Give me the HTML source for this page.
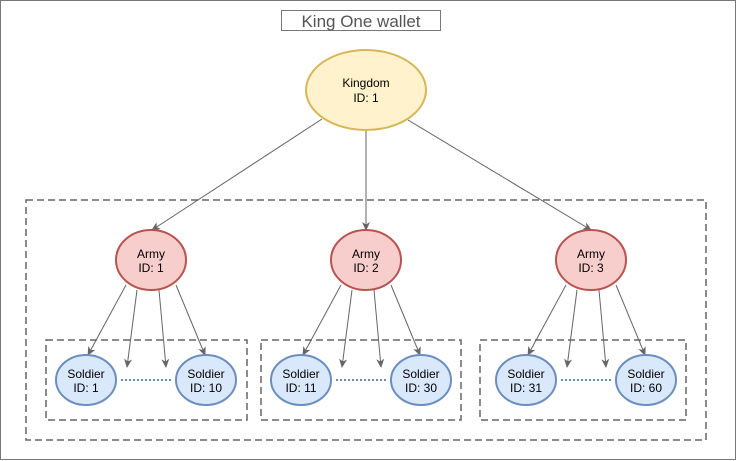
<!DOCTYPE html>
<html><head><style>body{margin:0;background:#fff}svg{display:block}text{font-family:"Liberation Sans",sans-serif;font-size:12px;fill:#000;text-anchor:middle}</style></head><body>
<svg width="736" height="461" viewBox="0 0 736 461">
<defs><marker id="a" markerWidth="10" markerHeight="10" refX="8" refY="5" orient="auto" markerUnits="userSpaceOnUse"><path d="M0,1 L9,5 L0,9 L2.5,5 Z" fill="#666"/></marker></defs>
<rect x="0.5" y="0.5" width="735" height="459" fill="#fff" stroke="#777"/>
<rect x="281.5" y="10.5" width="159" height="20" fill="#fff" stroke="#777"/>
<text x="361" y="27" style="font-size:17px;fill:#555">King One wallet</text>
<g fill="none" stroke="#666" stroke-dasharray="7,4" stroke-width="1.5">
<rect x="26" y="200" width="680" height="240"/>
<rect x="46" y="340" width="201" height="80"/>
<rect x="261" y="340" width="200" height="80"/>
<rect x="480" y="340" width="206" height="80"/>
</g>
<g stroke="#666" stroke-width="1" marker-end="url(#a)">
<line x1="322" y1="119" x2="152" y2="230"/>
<line x1="366" y1="130" x2="366" y2="230"/>
<line x1="408" y1="120" x2="591" y2="230"/>
<line x1="126" y1="285" x2="88" y2="355"/><line x1="137" y1="290" x2="127" y2="367"/><line x1="159" y1="290" x2="166" y2="367"/><line x1="176" y1="285" x2="205" y2="355"/>
<line x1="341" y1="285" x2="303" y2="355"/><line x1="352" y1="290" x2="342" y2="367"/><line x1="374" y1="290" x2="381" y2="367"/><line x1="391" y1="285" x2="420" y2="355"/>
<line x1="566" y1="285" x2="528" y2="355"/><line x1="577" y1="290" x2="567" y2="367"/><line x1="599" y1="290" x2="606" y2="367"/><line x1="616" y1="285" x2="645" y2="355"/>
</g>
<g stroke="#6c8ebf" stroke-width="2" stroke-dasharray="2,2">
<line x1="121" y1="380" x2="171" y2="380"/><line x1="336" y1="380" x2="386" y2="380"/><line x1="561" y1="380" x2="611" y2="380"/>
</g>
<ellipse cx="366" cy="90" rx="60" ry="40" fill="#fff2cc" stroke="#d6b656" stroke-width="2"/>
<text x="366" y="87">Kingdom</text><text x="366" y="102">ID: 1</text>
<g fill="#f8cecc" stroke="#b85450" stroke-width="2">
<ellipse cx="151" cy="260" rx="35" ry="30"/><ellipse cx="366" cy="260" rx="35" ry="30"/><ellipse cx="591" cy="260" rx="35" ry="30"/>
</g>
<text x="151" y="258">Army</text><text x="151" y="272">ID: 1</text>
<text x="366" y="258">Army</text><text x="366" y="272">ID: 2</text>
<text x="591" y="258">Army</text><text x="591" y="272">ID: 3</text>
<g fill="#dae8fc" stroke="#6c8ebf" stroke-width="2">
<ellipse cx="86" cy="380" rx="30" ry="25"/><ellipse cx="206" cy="380" rx="30" ry="25"/>
<ellipse cx="301" cy="380" rx="30" ry="25"/><ellipse cx="421" cy="380" rx="30" ry="25"/>
<ellipse cx="526" cy="380" rx="30" ry="25"/><ellipse cx="646" cy="380" rx="30" ry="25"/>
</g>
<text x="86" y="378">Soldier</text><text x="86" y="392">ID: 1</text>
<text x="206" y="378">Soldier</text><text x="206" y="392">ID: 10</text>
<text x="301" y="378">Soldier</text><text x="301" y="392">ID: 11</text>
<text x="421" y="378">Soldier</text><text x="421" y="392">ID: 30</text>
<text x="526" y="378">Soldier</text><text x="526" y="392">ID: 31</text>
<text x="646" y="378">Soldier</text><text x="646" y="392">ID: 60</text>
</svg>
</body></html>
